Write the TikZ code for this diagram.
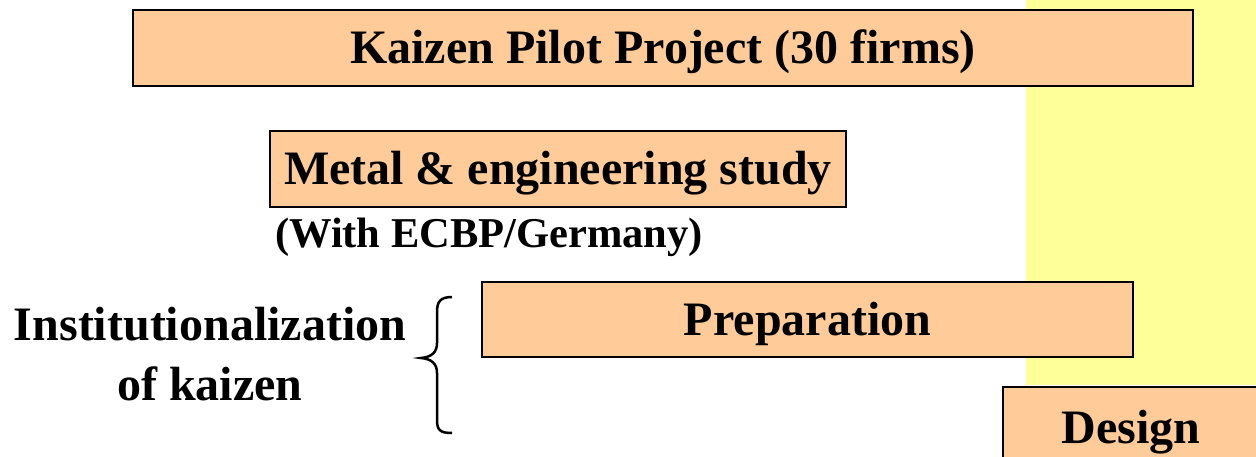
\documentclass[tikz,border=0pt]{standalone}
\usepackage{fontspec}
\setmainfont{Liberation Serif}
\definecolor{boxfill}{HTML}{FFCC99}
\definecolor{bandyellow}{HTML}{FFFF99}
\begin{document}
\begin{tikzpicture}[x=1pt,y=-1pt,
    phasebox/.style={draw=black, line width=2pt, fill=boxfill, inner sep=0pt,
      text height=31.5pt, text depth=0pt, font=\fontsize{48}{56}\selectfont\bfseries},
    plainlabel/.style={inner sep=0pt, font=\fontsize{48}{60}\selectfont\bfseries}]
    \useasboundingbox (0,0) rectangle (1256,456);
    \clip (0,0) rectangle (1256,456);
    \fill[white] (0,0) rectangle (1256,456);
    \fill[bandyellow] (1026,0) rectangle (1256,385);
    % phases
    \node[phasebox, minimum width=1060, minimum height=76] (kaizen) at (663,48) {Kaizen Pilot Project (30 firms)};
    \node[phasebox, minimum width=576, minimum height=76] (metal) at (558,169) {Metal \& engineering study};
    \node[plainlabel, font=\fontsize{42.5}{50}\selectfont\bfseries] (ecbp) at (489,237) {(With ECBP/Germany)};
    \node[phasebox, minimum width=651, minimum height=75] (prep) at (807.5,319.5) {Preparation};
    \node[phasebox, minimum width=256, minimum height=82] (design) at (1131,428) {Design};
    % institutionalization
    \node[plainlabel, align=center] (inst) at (210,354) {Institutionalization\\of kaizen};
    \draw[line width=2.5pt] (452,297) .. controls (440,297) and (437,302) .. (437,312) -- (437,343)
        .. controls (437,352) and (432,357) .. (421,358)
        .. controls (432,359) and (437,364) .. (437,373) -- (437,420)
        .. controls (437,430) and (440,433) .. (452,433);
\end{tikzpicture}
\end{document}
